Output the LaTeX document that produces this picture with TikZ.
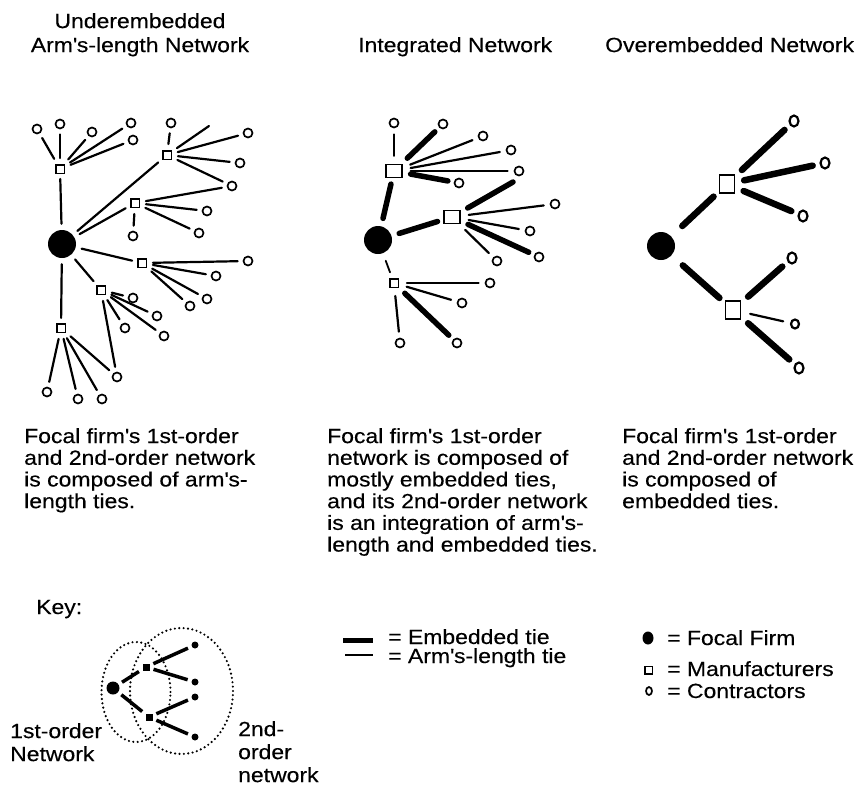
\documentclass[tikz,border=0pt]{standalone}
\usepackage{fontspec}
\setmainfont{Liberation Sans}[FakeStretch=1.12, FakeBold=0.3]
\usetikzlibrary{shapes.geometric, positioning}
\newcommand{\ap}{\textquotesingle}

\begin{document}
\begin{tikzpicture}[
  x=1pt, y=-1pt,
  font=\fontsize{20.5}{21.7}\selectfont,
  focal/.style={circle, fill, inner sep=0, minimum size=28pt},
  mfr/.style={draw, line width=1.5pt, inner sep=0, minimum size=8.5pt},
  con/.style={circle, draw, line width=1.7pt, inner sep=0, minimum size=9pt},
  arm/.style={line width=2.2pt, line cap=round},
  emb/.style={line width=5.5pt, line cap=round},
  txt/.style={anchor=north west, inner sep=0, align=left},
  dots/.style={line width=2.4pt, dash pattern=on 0pt off 4.4pt, line cap=round}
]
  \useasboundingbox (0,0) rectangle (860,785);

  % titles
  \node[anchor=north, inner sep=0, align=center, font=\fontsize{20.5}{24}\selectfont] (utitle) at (140,13) {Underembedded\\Arm\ap s-length Network};
  \node[txt] (ititle) at (358,37) {Integrated Network};
  \node[txt] (otitle) at (605,37) {Overembedded Network};

  % underembedded network
  \node[focal] (uf) at (62,244) {};
  \node[mfr] (um1) at (60,169) {};
  \node[mfr] (um2) at (167,155) {};
  \node[mfr] (um3) at (135,203) {};
  \node[mfr] (um4) at (142,263) {};
  \node[mfr] (um5) at (101,290) {};
  \node[mfr] (um6) at (61,328) {};
  \node[con] (uc1) at (37,129) {};
  \node[con] (uc2) at (60,124) {};
  \node[con] (uc3) at (92,132) {};
  \node[con] (uc4) at (131,123) {};
  \node[con] (uc5) at (133,140) {};
  \node[con] (uc6) at (171,123) {};
  \node[con] (uc7) at (248,133) {};
  \node[con] (uc8) at (240,163) {};
  \node[con] (uc9) at (232,186) {};
  \node[con] (uc10) at (207,211) {};
  \node[con] (uc11) at (133,236) {};
  \node[con] (uc12) at (199,233) {};
  \node[con] (uc13) at (248,261) {};
  \node[con] (uc14) at (216,276) {};
  \node[con] (uc15) at (207,299) {};
  \node[con] (uc16) at (190,306) {};
  \node[con] (uc17) at (133,298) {};
  \node[con] (uc18) at (157,316) {};
  \node[con] (uc19) at (164,336) {};
  \node[con] (uc20) at (125,328) {};
  \node[con] (uc21) at (117,377) {};
  \node[con] (uc22) at (47,392) {};
  \node[con] (uc23) at (78,399) {};
  \node[con] (uc24) at (102,399) {};
  \coordinate (uend) at (209,126);

  \begin{scope}[arm, shorten <=6pt, shorten >=5pt]
    \foreach \m in {um1,um2,um3,um4,um5,um6}
      \draw (uf) -- (\m);
    \foreach \c in {uc1,uc2,uc3,uc4,uc5}
      \draw (um1) -- (\c);
    \foreach \c in {uc6,uc7,uc8,uc9}
      \draw (um2) -- (\c);
    \draw[shorten >=0pt] (um2) -- (uend);
    \foreach \c in {uc9,uc10,uc11,uc12}
      \draw (um3) -- (\c);
    \foreach \c in {uc13,uc14,uc15,uc16}
      \draw (um4) -- (\c);
    \foreach \c in {uc17,uc18,uc19,uc20,uc21}
      \draw (um5) -- (\c);
    \foreach \c in {uc21,uc22,uc23,uc24}
      \draw (um6) -- (\c);
  \end{scope}

  % integrated network
  \node[focal] (if) at (378,240) {};
  \node[mfr, minimum width=16pt, minimum height=13pt] (im1) at (394,171) {};
  \node[mfr, minimum width=16pt, minimum height=13pt] (im2) at (452,217) {};
  \node[mfr] (im3) at (394,283) {};
  \node[con] (ic1) at (394,123) {};
  \node[con] (ic2) at (443,124) {};
  \node[con] (ic3) at (483,136) {};
  \node[con] (ic4) at (511,150) {};
  \node[con] (ic5) at (519,171) {};
  \node[con] (ic6) at (459,183) {};
  \node[con] (ic7) at (555,204) {};
  \node[con] (ic8) at (530,231) {};
  \node[con] (ic9) at (539,257) {};
  \node[con] (ic10) at (497,261) {};
  \node[con] (ic11) at (490,283) {};
  \node[con] (ic12) at (462,303) {};
  \node[con] (ic13) at (400,343) {};
  \node[con] (ic14) at (457,343) {};
  \coordinate (iend) at (513,182);

  \begin{scope}[shorten <=8pt, shorten >=6pt]
    \draw[emb] (if) -- (im1);
    \draw[emb] (if) -- (im2);
    \draw[arm, line width=1.8pt] (if) -- (im3);
    \foreach \c/\t in {ic1/arm,ic2/emb,ic3/arm,ic4/arm,ic5/arm,ic6/emb}
      \draw[\t] (im1) -- (\c);
    \draw[emb, shorten >=0pt] (im2) -- (iend);
    \foreach \c/\t in {ic7/arm,ic8/arm,ic9/emb,ic10/arm}
      \draw[\t] (im2) -- (\c);
    \foreach \c/\t in {ic11/arm,ic12/arm,ic13/arm,ic14/emb}
      \draw[\t] (im3) -- (\c);
  \end{scope}

  % overembedded network
  \node[focal] (of) at (661,246) {};
  \node[mfr, line width=1.7pt, minimum width=15pt, minimum height=18pt] (om1) at (727,184) {};
  \node[mfr, line width=1.7pt, minimum width=15pt, minimum height=18pt] (om2) at (733,310) {};
  \node[con, ellipse, line width=2.2pt, minimum width=9pt, minimum height=11pt] (oc1) at (794,121) {};
  \node[con, ellipse, line width=2.2pt, minimum width=9pt, minimum height=11pt] (oc2) at (825,163) {};
  \node[con, ellipse, line width=2.2pt, minimum width=9pt, minimum height=11pt] (oc3) at (803,216) {};
  \node[con, ellipse, line width=2.2pt, minimum width=9pt, minimum height=11pt] (oc4) at (792,258) {};
  \node[con, ellipse, line width=2.2pt, minimum width=8pt, minimum height=9pt] (oc5) at (795,324) {};
  \node[con, ellipse, line width=2.2pt, minimum width=9pt, minimum height=11pt] (oc6) at (799,368) {};

  \begin{scope}[emb, line width=6.5pt, shorten <=9pt, shorten >=7pt]
    \draw[shorten <=15pt] (of) -- (om1);
    \draw[shorten <=15pt] (of) -- (om2);
    \foreach \c in {oc1,oc2,oc3}
      \draw (om1) -- (\c);
    \draw (om2) -- (oc4);
    \draw[line width=2.2pt] (om2) -- (oc5);
    \draw (om2) -- (oc6);
  \end{scope}

  % captions
  \node[txt] (ucap) at (24,428) {Focal firm\ap s 1st-order\\and 2nd-order network\\is composed of arm\ap s-\\length ties.};
  \node[txt] (icap) at (327,428) {Focal firm\ap s 1st-order\\network is composed of\\mostly embedded ties,\\and its 2nd-order network\\is an integration of arm\ap s-\\length and embedded ties.};
  \node[txt] (ocap) at (622,428) {Focal firm\ap s 1st-order\\and 2nd-order network\\is composed of\\embedded ties.};

  % key
  \node[anchor=base west, inner sep=0] (key) at (36,614) {Key:};
  \node[ellipse, draw, dots, minimum width=69pt, minimum height=100pt] (firstorder) at (136,692) {};
  \node[ellipse, draw, dots, minimum width=103pt, minimum height=126pt] (secondorder) at (181.5,691) {};
  \node[circle, fill, inner sep=0, minimum size=13pt] (kf) at (113,688) {};
  \node[fill, inner sep=0, minimum size=7pt] (km1) at (146,667) {};
  \node[fill, inner sep=0, minimum size=7pt] (km2) at (149,717) {};
  \node[circle, fill, inner sep=0, minimum size=7pt] (kc1) at (195,645) {};
  \node[circle, fill, inner sep=0, minimum size=7pt] (kc2) at (195,682) {};
  \node[circle, fill, inner sep=0, minimum size=7pt] (kc3) at (195,697) {};
  \node[circle, fill, inner sep=0, minimum size=7pt] (kc4) at (195,737) {};
  \begin{scope}[line width=3.5pt, shorten <=4pt, shorten >=4pt]
    \draw (kf) -- (km1);
    \draw (kf) -- (km2);
    \draw (km1) -- (kc1);
    \draw (km1) -- (kc2);
    \draw (km2) -- (kc3);
    \draw (km2) -- (kc4);
  \end{scope}
  \node[txt, font=\fontsize{20.5}{23}\selectfont] (firstlbl) at (10,723) {1st-order\\Network};
  \node[txt, font=\fontsize{20.5}{23}\selectfont] (secondlbl) at (238,721) {2nd-\\order\\network};

  % legend
  \draw[line width=5pt] (343,640) -- (373,640);
  \draw[line width=1.8pt] (345,655) -- (373,655);
  \node[anchor=base west, inner sep=0] (embtxt) at (388,644) {= Embedded tie};
  \node[anchor=base west, inner sep=0] (armtxt) at (388,663) {= Arm\ap s-length tie};
  \node[ellipse, fill, inner sep=0, minimum width=11pt, minimum height=13pt] (lfocal) at (648,638) {};
  \node[mfr, minimum size=7.5pt] (lmfr) at (648.5,670) {};
  \node[con, minimum width=6pt, minimum height=8pt, ellipse] (lcon) at (649,691) {};
  \node[anchor=base west, inner sep=0] (focaltxt) at (667,645) {= Focal Firm};
  \node[anchor=base west, inner sep=0] (mfrtxt) at (667,676) {= Manufacturers};
  \node[anchor=base west, inner sep=0] (contxt) at (667,698) {= Contractors};
\end{tikzpicture}
\end{document}
